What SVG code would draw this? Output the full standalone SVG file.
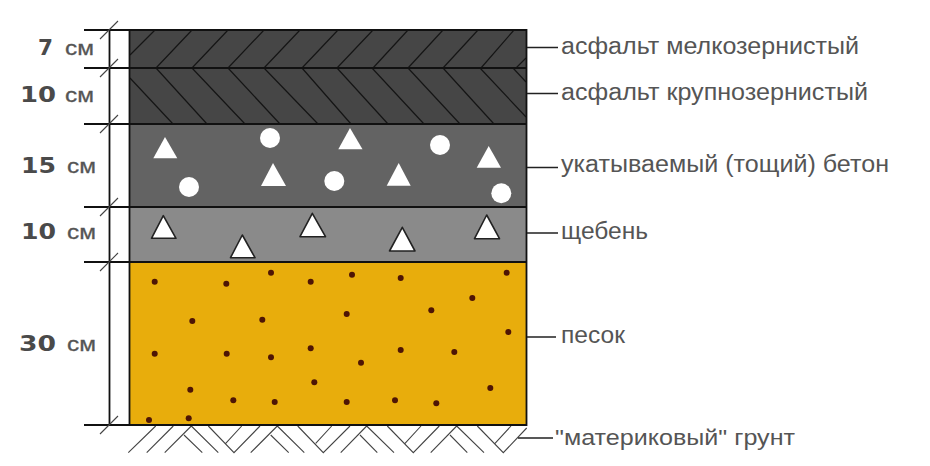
<svg xmlns="http://www.w3.org/2000/svg" width="930" height="466" viewBox="0 0 930 466">
<style>
.lb{font-family:"Liberation Sans",Arial,sans-serif;font-size:23.500px;fill:#555}
.n{font-family:"DejaVu Sans",sans-serif;font-weight:bold;font-size:21.500px;fill:#4a4a4a}
.u{font-family:"Liberation Sans",Arial,sans-serif;font-size:21px;fill:#555;stroke:#555;stroke-width:.3}
.k{stroke:#111;stroke-width:1.8;fill:none}
.l{stroke:#222;stroke-width:1.4;fill:none}
.h{stroke:#151515;stroke-width:1.2;fill:none}
.t{stroke:#444;stroke-width:1.1;fill:none}
.g{stroke:#444;stroke-width:1.1;fill:none}
.w{fill:#fff}
.wo{fill:#fff;stroke:#222;stroke-width:1.6;stroke-linejoin:round}
.d{fill:#4e1505}
</style>
<g id="layer-asphalt-fine">
<rect x="129.500" y="30" width="397" height="38" fill="#464646"/>
<path class="h" d="M130 55L155 30M156 68L192 30M192 68L228 30M228 68L264 30M264 68L300 30M302 68L338 30M337 68L373 30M373 68L408 30M408 68L443 30M443 68L478 30M481 68L514 30M516 68L526 58"/>
</g>
<g id="layer-asphalt-coarse">
<rect x="129.500" y="68" width="397" height="56" fill="#464646"/>
<path class="h" d="M130 78L173 124M156 68L207 124M192 68L245 124M228 68L280 124M264 68L318 124M302 68L351 124M337 68L388 124M372 68L424 124M408 68L460 124M443 68L494 124M480 68L526 117M513 68L526 82"/>
</g>
<g id="layer-lean-concrete">
<rect x="129.500" y="124" width="397" height="83" fill="#636363"/>
<polygon class="w" points="165,137 177.300,158.300 153.300,158.300"/>
<circle class="w" cx="270" cy="138" r="10"/>
<polygon class="w" points="350,128 362.500,149.300 338.300,149.300"/>
<circle class="w" cx="440" cy="145" r="10"/>
<polygon class="w" points="488.700,146 501,167.700 476.700,167.700"/>
<circle class="w" cx="189" cy="187" r="10"/>
<polygon class="w" points="273,163 286,186 261,186"/>
<circle class="w" cx="334.300" cy="181" r="10"/>
<polygon class="w" points="398.700,163 410.700,185.700 386.700,185.700"/>
<circle class="w" cx="501.300" cy="193.300" r="10"/>
</g>
<g id="layer-gravel">
<rect x="129.500" y="207" width="397" height="55" fill="#8a8a8a"/>
<polygon class="wo" points="163.300,215.700 176,238.300 151.500,238.300"/>
<polygon class="wo" points="242.300,235 255,257.700 230.500,257.700"/>
<polygon class="wo" points="312.300,213.300 325.500,236.700 300,236.700"/>
<polygon class="wo" points="402.300,227.300 415,251 389.500,251"/>
<polygon class="wo" points="486.700,215 499.500,238.700 474.500,238.700"/>
</g>
<g id="layer-sand">
<rect x="129.500" y="262" width="397" height="163" fill="#e8ad0c"/>
<g class="d">
<circle cx="154.700" cy="281.700" r="3"/><circle cx="226.300" cy="283.700" r="3"/><circle cx="271" cy="272.700" r="3"/><circle cx="310.700" cy="281.700" r="3"/><circle cx="352" cy="274.700" r="3"/><circle cx="400.700" cy="278" r="3"/><circle cx="506.700" cy="272.700" r="3"/><circle cx="472.300" cy="298" r="3"/><circle cx="431.300" cy="310.300" r="3"/><circle cx="346.700" cy="314" r="3"/><circle cx="262.300" cy="319.700" r="3"/><circle cx="192.300" cy="321" r="3"/><circle cx="508.300" cy="332" r="3"/><circle cx="154.700" cy="353.700" r="3"/><circle cx="226.700" cy="353.700" r="3"/><circle cx="271" cy="357.300" r="3"/><circle cx="310.700" cy="348.300" r="3"/><circle cx="361" cy="362.700" r="3"/><circle cx="400.700" cy="350" r="3"/><circle cx="454.300" cy="352" r="3"/><circle cx="190.300" cy="389.700" r="3"/><circle cx="314.300" cy="382.300" r="3"/><circle cx="490.300" cy="388" r="3"/><circle cx="233.300" cy="400.300" r="3"/><circle cx="274.700" cy="402" r="3"/><circle cx="346.700" cy="402" r="3"/><circle cx="395" cy="400.300" r="3"/><circle cx="436.300" cy="403.300" r="3"/><circle cx="149" cy="420" r="3"/><circle cx="188.700" cy="418.300" r="3"/>
</g>
</g>
<g id="ground">
<path class="g" d="M128.300 452.700L155.700 426M146.700 452.700L173.300 426M164.700 452.700L191.300 426M184 435L202.300 452.700M191.300 426L218.300 452.700M208.300 426L234 452.700L260 426M225.700 443.300L241.700 426M250.700 452.700L277.300 426M270.700 435L288.700 452.700M277.300 426L304.300 452.700M297.700 426L323.300 452.700L350 426M315.700 443.300L331.700 426M340.700 452.700L366.700 426M360 435L377.300 452.700M366.700 426L394 452.700M387.300 426L413.300 452.700L439.300 426M405 443.300L421 426M430.700 452.700L456.700 426M450 435L467.300 452.700M456.700 426L484 452.700M477.300 426L503.300 452.700L526.700 428M495 443.300L511 426"/>
</g>
<g id="connectors">
<path class="k" d="M129.500 30H526.500V425H129.500ZM129.500 68H526.500M129.500 124H526.500M129.500 207H526.500M129.500 262H526.500"/>
<path class="k" d="M84 30H129.500M84 68H129.500M84 124H129.500M84 207H129.500M84 262H129.500M84 425H129.500M109.500 30V425"/>
<path class="t" d="M100 39L118 21M100 77L118 59M100 133L118 115M100 216L118 198M100 271L118 253M100 434L118 416"/>
<path class="l" d="M527 47.500H558M527 93.500H558M527 167.500H558M527 233H558M527 337H556M518 438H553"/>
</g>
<g id="thickness-labels">
<text class="n" x="38" y="55" textLength="15" lengthAdjust="spacingAndGlyphs">7</text><text class="u" x="65" y="55" textLength="29" lengthAdjust="spacingAndGlyphs">см</text>
<text class="n" x="20" y="102" textLength="36" lengthAdjust="spacingAndGlyphs">10</text><text class="u" x="65" y="102" textLength="29" lengthAdjust="spacingAndGlyphs">см</text>
<text class="n" x="21" y="173" textLength="35" lengthAdjust="spacingAndGlyphs">15</text><text class="u" x="67" y="173" textLength="29" lengthAdjust="spacingAndGlyphs">см</text>
<text class="n" x="21" y="239" textLength="35" lengthAdjust="spacingAndGlyphs">10</text><text class="u" x="67" y="239" textLength="29" lengthAdjust="spacingAndGlyphs">см</text>
<text class="n" x="19" y="351" textLength="37" lengthAdjust="spacingAndGlyphs">30</text><text class="u" x="67" y="351" textLength="29" lengthAdjust="spacingAndGlyphs">см</text>
</g>
<g id="layer-labels">
<text class="lb" x="561" y="54" textLength="298" lengthAdjust="spacingAndGlyphs">асфальт мелкозернистый</text>
<text class="lb" x="561" y="100" textLength="307" lengthAdjust="spacingAndGlyphs">асфальт крупнозернистый</text>
<text class="lb" x="561" y="172" textLength="328" lengthAdjust="spacingAndGlyphs">укатываемый (тощий) бетон</text>
<text class="lb" x="561" y="239" textLength="87" lengthAdjust="spacingAndGlyphs">щебень</text>
<text class="lb" x="561" y="343" textLength="64" lengthAdjust="spacingAndGlyphs">песок</text>
<text class="lb" x="555" y="445" textLength="240" lengthAdjust="spacingAndGlyphs" style="font-size:22px">"материковый" грунт</text>
</g>
</svg>
